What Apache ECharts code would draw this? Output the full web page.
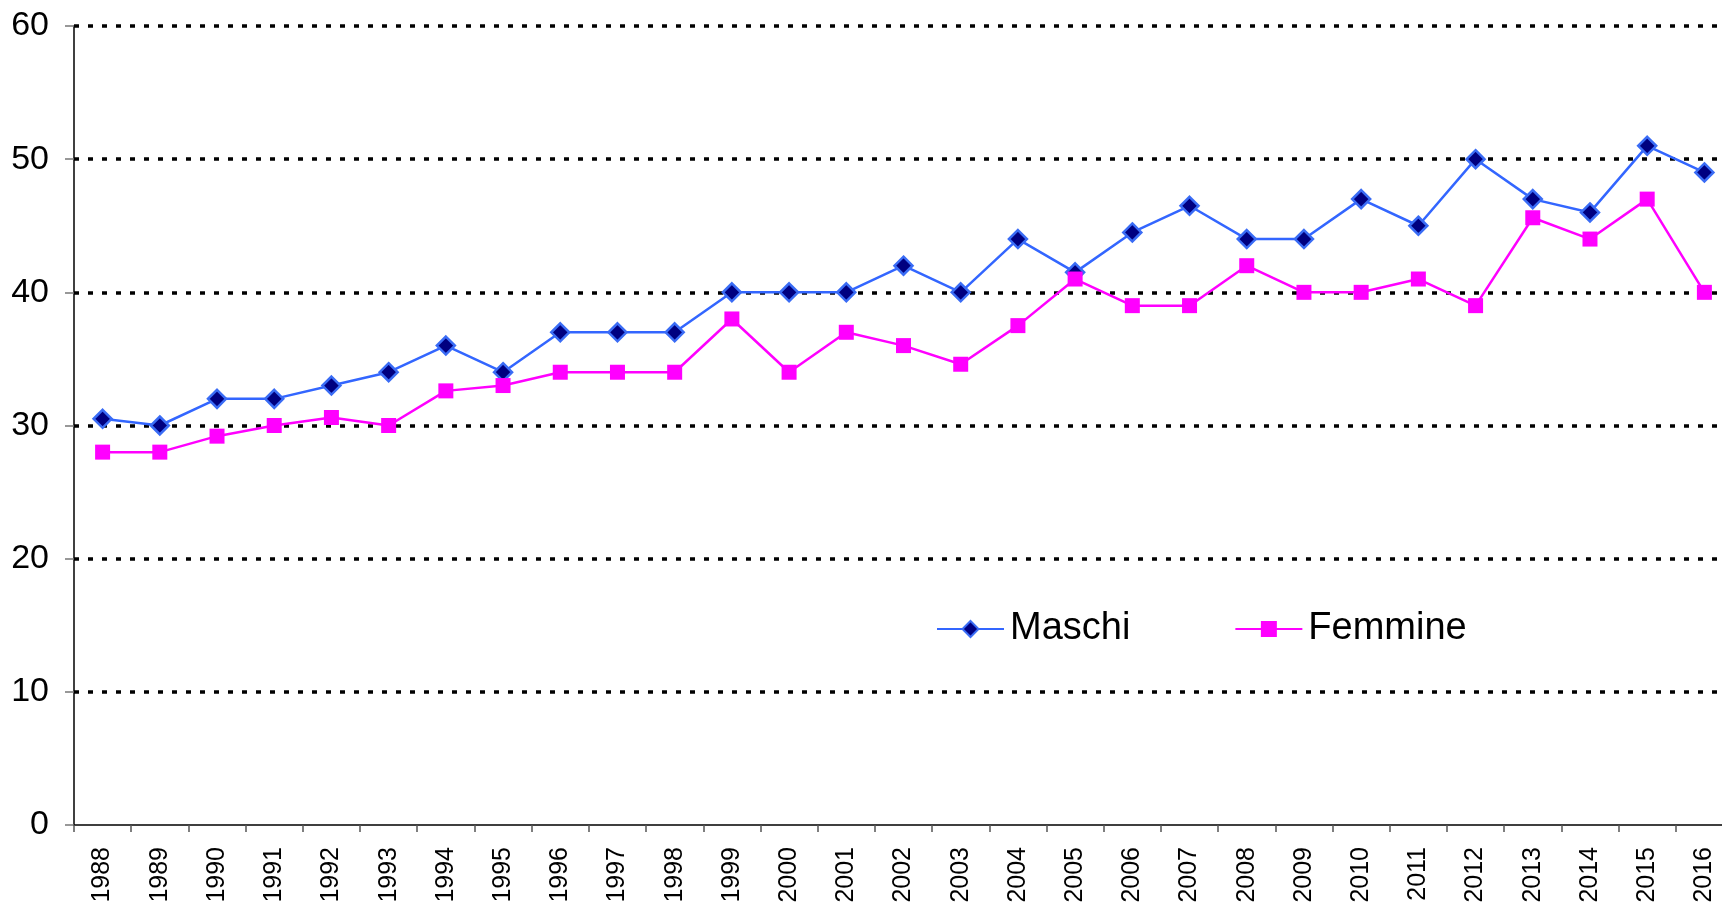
<!DOCTYPE html>
<html>
<head>
<meta charset="utf-8">
<script src="https://cdn.jsdelivr.net/npm/echarts@6/dist/echarts.min.js"></script>
<style>
  html, body { margin: 0; padding: 0; background: #fff; }
  #chart { width: 1722px; height: 904px; }
</style>
</head>
<body>
<div id="chart"></div>
<script>
  // anni
  const years = ['1988', '1989', '1990', '1991', '1992', '1993', '1994', '1995', '1996', '1997',
    '1998', '1999', '2000', '2001', '2002', '2003', '2004', '2005', '2006', '2007',
    '2008', '2009', '2010', '2011', '2012', '2013', '2014', '2015', '2016'];

  const maschi = [30.5, 30, 32, 32, 33, 34, 36, 34, 37, 37,
    37, 40, 40, 40, 42, 40, 44, 41.5, 44.5, 46.5,
    44, 44, 47, 45, 50, 47, 46, 51, 49];

  const femmine = [28, 28, 29.2, 30, 30.6, 30, 32.6, 33, 34, 34,
    34, 38, 34, 37, 36, 34.6, 37.5, 41, 39, 39,
    42, 40, 40, 41, 39, 45.6, 44, 47, 40];

  const font = 'Liberation Sans, Arial, sans-serif';

  const chart = echarts.init(document.getElementById('chart'));

  const option = {
    animation: false,
    backgroundColor: '#fff',
    grid: {
      left: 74,
      top: 26,
      width: 1659,
      height: 799,
      containLabel: false,
      outerBoundsMode: 'none',
    },
    legend: {
      data: ['Maschi', 'Femmine'],
      left: 931,
      top: 605,
      itemWidth: 67,
      itemHeight: 20,
      itemGap: 104,
      textStyle: {
        fontFamily: font,
        fontSize: 38,
        color: '#000',
        padding: [0, 0, 0, 1],
      },
    },
    xAxis: {
      type: 'category',
      data: years,
      boundaryGap: true,
      axisLine: { lineStyle: { color: '#000', width: 1.5 } },
      axisTick: { show: true, length: 7, lineStyle: { color: '#555', width: 1.5 } },
      axisLabel: {
        rotate: 90,
        margin: 22,
        fontFamily: font,
        fontSize: 25,
        color: '#000',
        interval: 0,
      },
      splitLine: { show: false },
    },
    yAxis: {
      type: 'value',
      min: 0,
      max: 60,
      interval: 10,
      axisLine: { show: true, lineStyle: { color: '#000', width: 1.5 } },
      axisTick: { show: true, length: 9, lineStyle: { color: '#777', width: 1.5 } },
      axisLabel: {
        margin: 25,
        fontFamily: font,
        fontSize: 34,
        color: '#000',
      },
      splitLine: {
        show: true,
        showMinLine: false,
        lineStyle: { color: '#000', width: 3.5, type: [5, 9] },
      },
    },
    series: [
      {
        name: 'Maschi',
        type: 'line',
        data: maschi,
        symbol: 'diamond',
        symbolSize: 18,
        lineStyle: { color: '#3366FF', width: 2.5 },
        itemStyle: { color: '#000080', borderColor: '#3a6cf5', borderWidth: 2.5 },
      },
      {
        name: 'Femmine',
        type: 'line',
        data: femmine,
        symbol: 'rect',
        symbolSize: 15,
        lineStyle: { color: '#FF00FF', width: 2.5 },
        itemStyle: { color: '#FF00FF', borderWidth: 0 },
      },
    ],
  };

  chart.setOption(option);
</script>
</body>
</html>
